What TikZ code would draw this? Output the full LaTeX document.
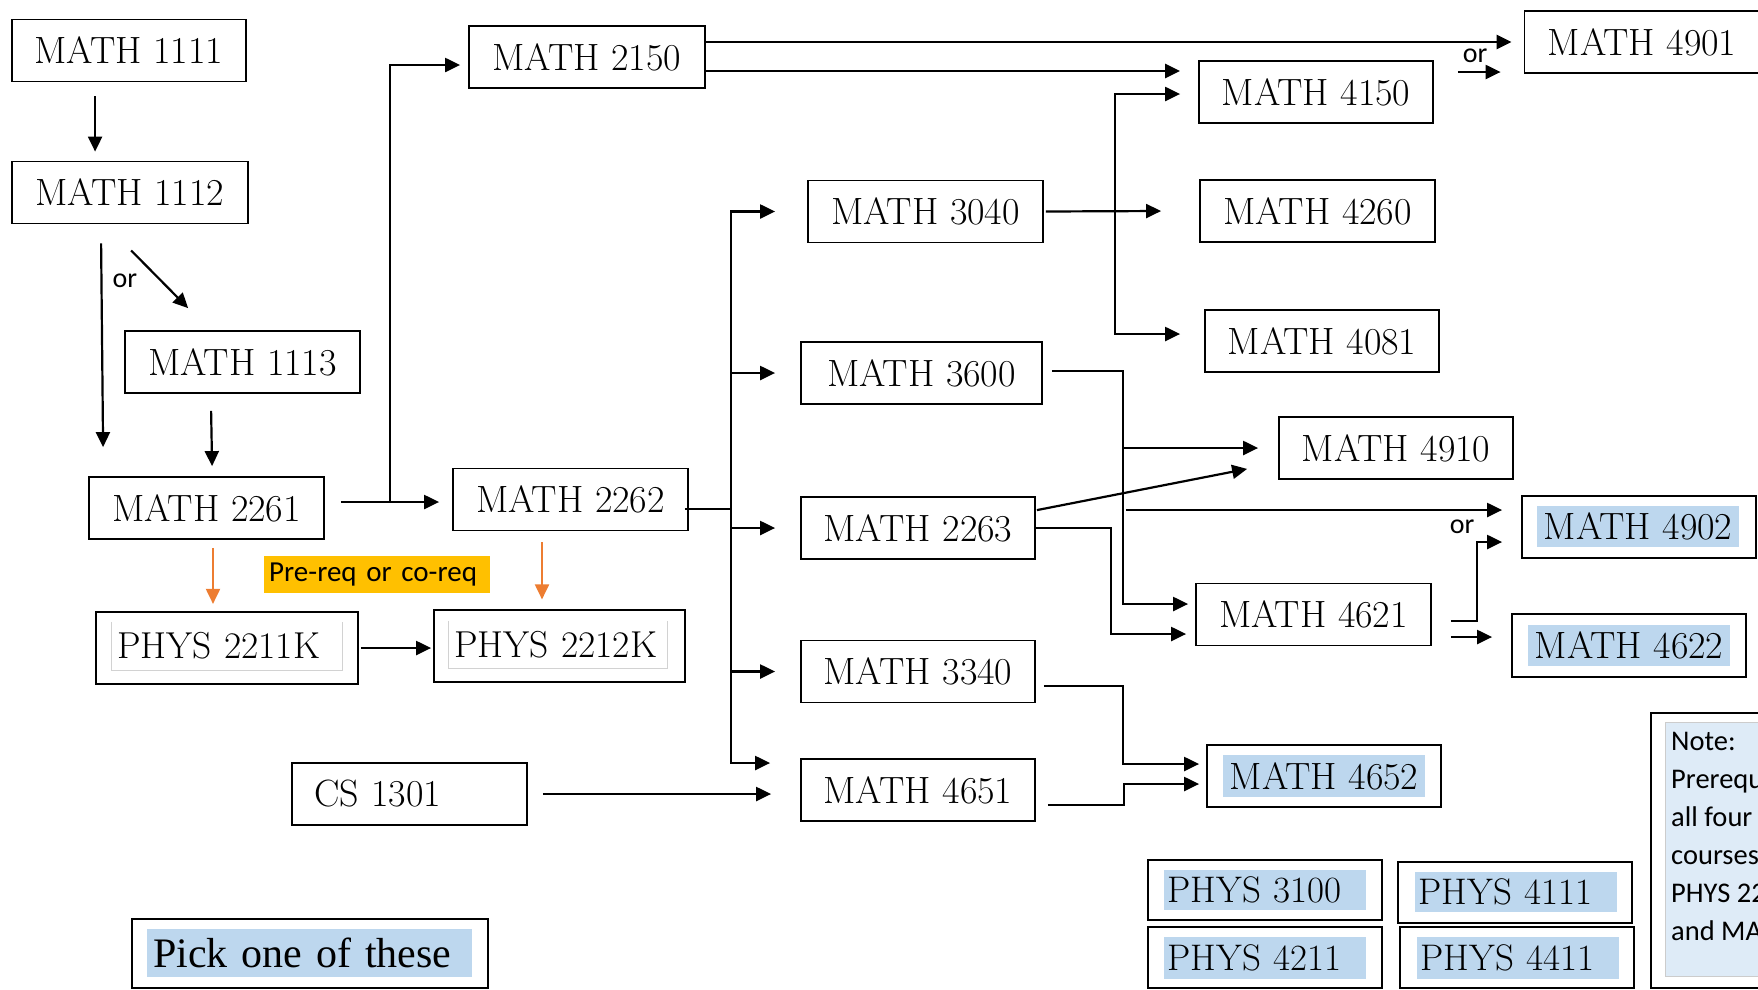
\documentclass[tikz,border=0pt]{standalone}
\usepackage{fontspec}
\newfontfamily\calibri{Carlito}
\newfontfamily\timesnr{Liberation Serif}
\usepackage{xcolor}
\usepackage{tikz}
\usetikzlibrary{positioning,arrows.meta}
\definecolor{hl}{HTML}{BDD7EE}
\definecolor{notefill}{HTML}{DEEBF7}
\definecolor{prqyellow}{HTML}{FFC000}
\definecolor{oline}{HTML}{ED7D31}
\tikzset{
  course/.style={draw=black,line width=1.8pt,minimum width=234pt,minimum height=62pt,inner sep=0pt,font=\fontsize{38}{44}\selectfont},
  hlfill/.style={fill=hl,minimum width=202pt,minimum height=41pt,inner sep=0pt,font=\fontsize{38}{44}\selectfont},
  hlleft/.style={hlfill,text width=194pt,inner xsep=4pt,minimum height=40pt,align=left,font=\fontsize{37}{42}\selectfont},
  frametxt/.style={inner xsep=5pt,inner ysep=0pt,minimum height=48pt,align=left,font=\fontsize{37.5}{42}\selectfont},
  arr/.style={line width=2.2pt,-{Triangle[length=15pt,width=14pt]}},
  oarr/.style={draw=oline,line width=2pt,-{Triangle[length=15pt,width=14pt]}},
  ortext/.style={font=\calibri\fontsize{28}{32}\selectfont,inner sep=0pt},
}

\begin{document}
\begin{tikzpicture}[x=1pt,y=-1pt]
		\useasboundingbox (0,0) rectangle (1758,989);
		\clip (0,0) rectangle (1758,989);
		\node[course] (m1111) at (129,50.5) {MATH 1111};
		\node[course,minimum width=236pt] (m1112) at (130,192.5) {MATH 1112};
		\node[course,minimum width=235pt] (m1113) at (242.5,362) {MATH 1113};
		\node[course,minimum width=235pt] (m2261) at (206.5,508) {MATH 2261};
		\node[course,minimum width=236pt] (m2150) at (587,57) {MATH 2150};
		\node[course,minimum width=235pt] (m2262) at (570.5,499.5) {MATH 2262};
		\node[course,minimum width=262pt,minimum height=72pt] (p2211) at (227,648) {};
		\node[frametxt,text width=220pt] (p2211t) at (227,646) {PHYS 2211K};
		\node[course,minimum width=251pt,minimum height=72pt] (p2212) at (559.5,646) {};
		\node[frametxt,text width=208pt,minimum height=47pt] (p2212t) at (558,644.5) {PHYS 2212K};
		\node[fill=prqyellow,anchor=north west,text width=216pt,inner xsep=5pt,inner ysep=0pt,minimum height=37pt,align=left,font=\calibri\fontsize{29}{34}\selectfont] (prq) at (264,556) {Pre-req or co-req};
		\node[course,text width=191pt,inner xsep=22pt,align=left] (c1301) at (409.5,794) {CS 1301};
		\node[draw=black,line width=1.8pt,minimum width=356pt,minimum height=69pt] (pick) at (310,953.5) {};
		\node[fill=hl,text width=313pt,inner xsep=6pt,inner ysep=0pt,minimum height=48pt,align=left,font=\timesnr\fontsize{42}{48}\selectfont] (pickt) at (309.5,953) {Pick one of these};

		\node[course,minimum width=235pt] (m3040) at (925.5,211.5) {MATH 3040};
		\node[course,minimum width=241pt] (m3600) at (921.5,373) {MATH 3600};
		\node[course] (m2263) at (918,528) {MATH 2263};
		\node[course] (m3340) at (918,671.5) {MATH 3340};
		\node[course] (m4651) at (918,790) {MATH 4651};

		\node[course] (m4150) at (1316,92) {MATH 4150};
		\node[course,minimum width=235pt] (m4260) at (1317.5,211) {MATH 4260};
		\node[course] (m4081) at (1322,341) {MATH 4081};
		\node[course] (m4910) at (1396,448) {MATH 4910};
		\node[course,minimum width=235pt] (m4621) at (1313.5,614.5) {MATH 4621};
		\node[course,minimum width=235pt] (m4901) at (1642,42) {MATH 4901};

		\node[course] (m4902) at (1639,527) {};
		\node[hlfill] (m4902t) at (1638,526.5) {MATH 4902};
		\node[course,minimum height=63pt] (m4622) at (1629,645.5) {};
		\node[hlfill] (m4622t) at (1629,645.5) {MATH 4622};
		\node[course] (m4652) at (1324,776) {};
		\node[hlfill,minimum height=42pt] (m4652t) at (1324,776) {MATH 4652};

		\node[course,minimum height=60pt] (p3100) at (1265,890) {};
		\node[hlleft] (p3100t) at (1264.5,889.5) {PHYS 3100};
		\node[course,minimum height=61pt] (p4111) at (1515,892.5) {};
		\node[hlleft] (p4111t) at (1515.5,892) {PHYS 4111};
		\node[course,minimum height=61pt] (p4211) at (1265,957.5) {};
		\node[hlleft,minimum height=42pt] (p4211t) at (1264.5,958) {PHYS 4211};
		\node[course,minimum height=61pt] (p4411) at (1517,957.5) {};
		\node[hlleft,minimum height=42pt] (p4411t) at (1517.5,958) {PHYS 4411};

		\node[draw=black,line width=1.8pt,anchor=north west,minimum width=200pt,minimum height=275pt] (note) at (1650,712) {};
		\node[fill=notefill,draw=gray!40,line width=0.8pt,anchor=north west,minimum width=200pt,minimum height=254pt] (notebg) at (1665,722) {};
		\node[anchor=base west,align=left,inner sep=0pt,font=\calibri\fontsize{28.5}{38}\selectfont] (notetxt) at (1671,940) {Note:\\Prerequ\\all four\\courses\\PHYS 22\\and MA};

		\draw[gray!35,line width=1pt] (p2211t.north west) |- (p2211t.south east) -- (p2211t.north east);
		\draw[gray!35,line width=1pt] (p2212t.north west) |- (p2212t.south east) -- (p2212t.north east);

		\draw[arr] ([shift={(84,14)}]m1111.south west) -- ([shift={(84,-9)}]m1112.north west);
		\draw[arr] ([shift={(90,19)}]m1112.south west) -- ([shift={(15,-29)}]m2261.north west);
		\draw[arr] ([shift={(120,26)}]m1112.south west) -- ([shift={(64,-22)}]m1113.north west);
		\node[ortext] (or1) at (125,281) {or};
		\draw[arr] ([shift={(87,17)}]m1113.south west) -- ([shift={(124,-10)}]m2261.north west);

		\draw[arr] ([shift={(16,-6)}]m2261.east) coordinate (a2261) -- ([xshift=-13pt]m2262.west |- a2261);
		\draw[arr] ([xshift=49pt]a2261) |- ([shift={(-8,8)}]m2150.west);
		\draw[arr,line width=2.8pt] ([yshift=15pt]m2150.east) -- ([xshift=-12pt]m4901.west);
		\draw[arr,line width=2.8pt] ([yshift=-14pt]m2150.east) coordinate (b2150) -- ([xshift=-18pt]m4150.west |- b2150);
		\node[ortext] (or2) at (1475,56) {or};
		\draw[arr] ([shift={(24,-20)}]m4150.east) coordinate (c4150) -- ([xshift=-23pt]m4901.west |- c4150);

		\draw[line width=2.2pt] ([shift={(-4,9.5)}]m2262.east) -- ++(46,0) coordinate (bus);
		\draw[arr] (bus) |- ([xshift=-32pt]m3040.west);
		\draw[arr] (bus) |- ([shift={(-30,-27)}]m4651.west);
		\draw[arr] (bus |- m3600.west) -- ([xshift=-25pt]m3600.west);
		\draw[arr] (bus |- m2263.west) -- ([xshift=-25pt]m2263.west);
		\draw[arr] (bus |- m3340.west) -- ([xshift=-25pt]m3340.west);
		\draw[arr] ([xshift=15pt]c1301.east) -- ([xshift=-29pt]m4651.west |- c1301.east);

		\draw[arr] ([xshift=2pt]m3040.east) -- ([xshift=-38pt]m4260.west);
		\coordinate (k3040) at ([xshift=71pt]m3040.east);
		\draw[arr] (k3040) |- ([shift={(-18,2)}]m4150.west);
		\draw[arr] (k3040) |- ([shift={(-24,-7)}]m4081.west);

		\draw[arr] ([shift={(9,-2)}]m3600.east) -- ++(71,0) coordinate (k3600) |- ([shift={(-7,-10.5)}]m4621.west);
		\draw[arr] (k3600 |- m4910.west) -- ([xshift=-20pt]m4910.west);
		\path ([shift={(-19,-17)}]m4902.west) coordinate (t4902);
		\draw[arr] ([xshift=3pt]k3600 |- t4902) -- (t4902);

		\draw[arr] ([shift={(1,14)}]m2263.north east) -- ([shift={(-31,-11)}]m4910.south west);
		\draw[arr] (m2263.east) -- ++(75,0) |- ([shift={(-9,19.5)}]m4621.west);

		\draw[arr] ([shift={(19,6.5)}]m4621.east) -- ++(26,0) |- ([shift={(-19,15)}]m4902.west);
		\path ([shift={(-19,-8.5)}]m4622.west) coordinate (t4622);
		\draw[arr] ([xshift=19pt]m4621.east |- t4622) -- (t4622);
		\node[ortext] (or3) at (1462,527) {or};

		\draw[arr] ([shift={(8,14.5)}]m3340.east) -- ++(79,0) |- ([shift={(-7,-12)}]m4652.west);
		\draw[arr] ([shift={(12,15)}]m4651.east) -- ++(76,0) |- ([shift={(-7,8)}]m4652.west);

		\draw[arr] ([xshift=2pt]p2211.east) -- ([xshift=-2pt]p2212.west |- p2211.east);
		\draw[oarr] ([shift={(6.5,8)}]m2261.south) -- ++(0,56);
		\draw[oarr] ([shift={(-28.5,11)}]m2262.south) -- ++(0,57);
	\end{tikzpicture}
\end{document}
